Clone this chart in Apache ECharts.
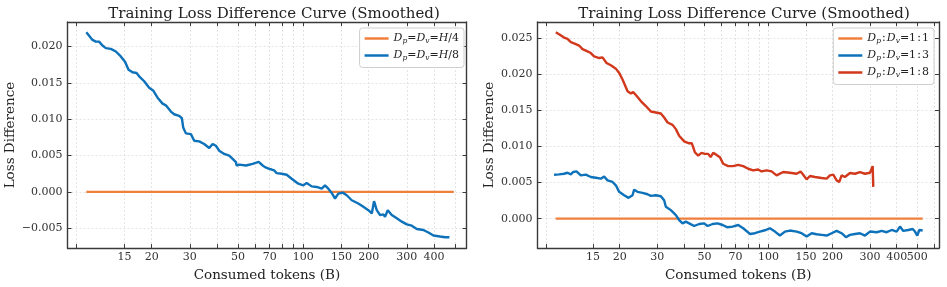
<!DOCTYPE html>
<html>
<head>
<meta charset="utf-8">
<script src="https://cdn.jsdelivr.net/npm/echarts@6/dist/echarts.min.js"></script>
<style>html,body{margin:0;padding:0;background:#fff;}#c{width:947px;height:287px;}</style>
</head>
<body>
<div id="c"></div>
<script>
// ---------- data (tokens in B, loss difference) ----------
const leftTokensH4 = [10, 494];
const leftLossH4 = [0, 0];
const leftTokensH8 = [10.0,10.68,11.06,11.45,11.87,12.30,12.97,13.68,14.42,15.10,15.65,16.33,17.04,17.52,18.48,19.48,20.32,21.30,22.46,23.26,24.53,25.40,26.79,27.57,27.96,28.76,30.34,31.42,33.13,34.94,36.84,38.19,39.55,40.96,43.20,45.56,47.24,48.92,49.28,50.66,54.40,58.41,62.27,64.97,66.57,69.67,71.46,73.47,75.37,79.47,83.80,88.41,94.80,100.0,103.6,109.3,115.3,121.6,125.9,130.4,135.2,140.0,142.6,145.0,151.9,158.5,167.2,179.3,189.1,199.4,206.8,211.8,218.0,225.8,233.8,238.1,245.0,255.6,269.6,284.4,299.9,316.2,333.4,357.6,377.2,397.8,427.0,450.3,471.4];
const leftLossH8 = [0.02196,0.02091,0.02067,0.02067,0.02013,0.01977,0.01968,0.01931,0.01863,0.01786,0.01681,0.01645,0.01636,0.01590,0.01522,0.01432,0.01395,0.01296,0.01214,0.01191,0.01105,0.01068,0.01045,0.01013,0.00886,0.00805,0.00795,0.00704,0.00695,0.00659,0.00604,0.00659,0.00635,0.00567,0.00522,0.00499,0.00454,0.00409,0.00363,0.00376,0.00363,0.00386,0.00413,0.00363,0.00341,0.00318,0.00308,0.00295,0.00259,0.00250,0.00236,0.00181,0.00113,0.00090,0.00123,0.00076,0.00068,0.00045,0.00090,0.00045,-0.00014,-0.00091,-0.00105,-0.00023,-0.00010,-0.00046,-0.00115,-0.00160,-0.00205,-0.00251,-0.00296,-0.00128,-0.00251,-0.00319,-0.00310,-0.00341,-0.00251,-0.00319,-0.00364,-0.00409,-0.00446,-0.00464,-0.00510,-0.00524,-0.00559,-0.00600,-0.00614,-0.00623,-0.00623];

const rightTokens11 = [10, 530];
const rightLoss11 = [0, 0];
const rightTokens13 = [9.83,10.38,10.96,11.37,11.79,12.08,12.53,13.13,13.86,14.63,15.45,16.31,16.90,17.53,18.51,19.18,19.88,20.98,22.00,22.98,23.38,24.25,25.60,27.02,28.01,29.56,31.21,32.34,32.94,34.77,36.71,38.03,39.47,40.90,42.39,44.74,47.23,49.85,51.73,54.60,57.65,60.85,64.23,67.79,72.03,76.03,81.75,86.30,91.10,96.16,101.5,107.2,113.1,119.4,126.0,135.5,143.0,151.0,159.4,168.2,177.6,187.5,197.9,208.9,220.5,231.0,241.2,254.6,268.8,283.8,299.6,322.1,340.0,358.9,378.8,399.8,414.4,429.5,453.3,475.4,487.4,499.7,510.6,529.7];
const rightLoss13 = [0.00609,0.00613,0.00622,0.00636,0.00613,0.00646,0.00654,0.00599,0.00609,0.00577,0.00567,0.00554,0.00585,0.00530,0.00508,0.00462,0.00371,0.00324,0.00288,0.00324,0.00402,0.00371,0.00357,0.00338,0.00316,0.00324,0.00310,0.00255,0.00165,0.00118,0.00049,-0.00019,-0.00065,-0.00041,-0.00065,-0.00102,-0.00074,-0.00065,-0.00102,-0.00074,-0.00065,-0.00088,-0.00120,-0.00110,-0.00088,-0.00133,-0.00212,-0.00202,-0.00179,-0.00161,-0.00133,-0.00179,-0.00234,-0.00179,-0.00165,-0.00179,-0.00202,-0.00247,-0.00202,-0.00216,-0.00225,-0.00234,-0.00202,-0.00170,-0.00202,-0.00257,-0.00225,-0.00212,-0.00202,-0.00234,-0.00179,-0.00188,-0.00170,-0.00188,-0.00157,-0.00179,-0.00110,-0.00170,-0.00157,-0.00143,-0.00179,-0.00234,-0.00157,-0.00165];
const rightTokens18 = [10.02,10.38,10.96,11.37,11.79,12.44,12.89,13.37,14.12,14.63,15.16,16.01,16.61,16.90,17.34,18.17,19.18,19.88,20.62,21.77,22.56,23.13,23.82,25.13,26.53,28.01,29.56,31.21,32.34,33.56,35.42,36.71,38.03,40.15,42.39,43.64,45.08,46.72,48.48,50.23,52.06,53.43,54.95,57.02,59.09,61.24,64.64,68.23,72.03,76.03,80.26,84.72,89.43,92.78,97.93,103.4,109.1,117.2,126.0,135.5,141.5,145.5,151.0,156.5,165.2,177.6,187.5,194.3,201.4,208.9,214.8,220.5,228.5,241.2,254.6,268.8,283.8,299.6,308.5,310.4];
const rightLoss18 = [0.02582,0.02555,0.02508,0.02490,0.02445,0.02418,0.02398,0.02349,0.02316,0.02294,0.02247,0.02225,0.02234,0.02247,0.02157,0.02124,0.02078,0.02019,0.01927,0.01766,0.01735,0.01753,0.01712,0.01629,0.01560,0.01484,0.01470,0.01456,0.01401,0.01332,0.01299,0.01240,0.01148,0.01071,0.01044,0.01044,0.00920,0.00874,0.00911,0.00897,0.00897,0.00852,0.00911,0.00883,0.00852,0.00760,0.00728,0.00728,0.00746,0.00728,0.00691,0.00668,0.00681,0.00654,0.00668,0.00654,0.00599,0.00646,0.00636,0.00622,0.00654,0.00609,0.00544,0.00591,0.00577,0.00563,0.00554,0.00599,0.00609,0.00530,0.00508,0.00599,0.00577,0.00632,0.00622,0.00646,0.00622,0.00636,0.00728,0.00440];

// ---------- ticks ----------
const leftXTicks = [9,15,20,30,40,50,60,70,80,90,100,150,200,300,400,500];
const leftXLabels = [15,20,30,50,70,100,150,200,300,400];
const rightXTicks = [9,15,20,30,40,50,60,70,80,90,100,150,200,300,400,500,600];
const rightXLabels = [15,20,30,50,70,100,150,200,300,400];
const rightXLabelsExtra = [500];
const leftYTicks = [-0.005,0,0.005,0.010,0.015,0.020];
const rightYTicks = [0,0.005,0.010,0.015,0.020,0.025];
const leftXRange = [8.19, 565];
const rightXRange = [8.22, 632];
const leftYRange = [-0.00773, 0.02337];
const rightYRange = [-0.00408, 0.02724];

const titleText = 'Training Loss Difference Curve (Smoothed)';
const xName = 'Consumed tokens (B)';
const yName = 'Loss Difference';

const leftNames = ['Dp=Dv=H/4', 'Dp=Dv=H/8'];
const rightNames = ['Dp:Dv=1:1', 'Dp:Dv=1:3', 'Dp:Dv=1:8'];
const legendRich = {
  'Dp=Dv=H/4': '{i|D}{s|p}{n|=}{i|D}{s|v}{n|=}{i|H}{n|/4}',
  'Dp=Dv=H/8': '{i|D}{s|p}{n|=}{i|D}{s|v}{n|=}{i|H}{n|/8}',
  'Dp:Dv=1:1': '{i|D}{s|p}{n|\u200A:\u200A}{i|D}{s|v}{n|=1\u200A:\u200A1}',
  'Dp:Dv=1:3': '{i|D}{s|p}{n|\u200A:\u200A}{i|D}{s|v}{n|=1\u200A:\u200A3}',
  'Dp:Dv=1:8': '{i|D}{s|p}{n|\u200A:\u200A}{i|D}{s|v}{n|=1\u200A:\u200A8}'
};

const ORANGE = '#F07F3C', BLUE = '#0E72BA', RED = '#D2381C';
const FONT = 'DejaVu Serif';
const AXC = '#3a3a3a';

const L = v => Math.log10(v);
const pts = (xs, ys) => xs.map((x, i) => [L(x), ys[i]]);
const fmtY = v => { const s = Math.abs(v).toFixed(3); return v < -1e-9 ? '\u2212' + s : s; };
const fmtX = v => String(Math.round(Math.pow(10, v)));

const grids = [
  {left: 67.5, top: 22, width: 399, height: 228},
  {left: 537.5, top: 22, width: 401.5, height: 228}
];
const labelStyle = {fontFamily: FONT, fontSize: 11, color: '#333', margin: 4, hideOverlap: false, interval: 0};

function xAxes(gi, range, ticks, labels) {
  const base = {
    type: 'value', gridIndex: gi, min: L(range[0]), max: L(range[1]),
    axisLine: {show: true, onZero: false, lineStyle: {color: AXC, width: 1.4}},
    axisTick: {show: true, inside: true, length: 4, customValues: ticks.map(L), lineStyle: {color: AXC, width: 1}},
  };
  return [
    Object.assign({}, base, {
      position: 'bottom',
      axisLabel: Object.assign({show: true, customValues: labels.map(L), formatter: fmtX}, labelStyle),
      splitLine: {show: true, lineStyle: {color: '#dedede', type: [2, 2], width: 0.8}},
      name: xName, nameLocation: 'middle', nameGap: 16,
      nameTextStyle: {fontFamily: FONT, fontSize: 13.5, color: '#222'}
    }),
    Object.assign({}, base, {
      position: 'top', axisLabel: {show: false}, splitLine: {show: false}
    })
  ];
}
// extra label-only axis (keeps tightly packed labels from being hidden)
function extraLabelAxis(gi, range, labels) {
  return {
    type: 'value', gridIndex: gi, min: L(range[0]), max: L(range[1]), position: 'bottom',
    axisLine: {show: false}, axisTick: {show: false}, splitLine: {show: false},
    axisLabel: Object.assign({show: true, customValues: labels.map(L), formatter: fmtX}, labelStyle)
  };
}
function yAxes(gi, range, ticks, nameGap) {
  const base = {
    type: 'value', gridIndex: gi, min: range[0], max: range[1],
    axisLine: {show: true, onZero: false, lineStyle: {color: AXC, width: 1.4}},
    axisTick: {show: true, inside: true, length: 4, customValues: ticks, lineStyle: {color: AXC, width: 1}},
  };
  return [
    Object.assign({}, base, {
      position: 'left',
      axisLabel: {show: true, customValues: ticks, formatter: fmtY, fontFamily: FONT, fontSize: 11, color: '#333', margin: 5},
      splitLine: {show: true, lineStyle: {color: '#dedede', type: [2, 2], width: 0.8}},
      name: yName, nameLocation: 'middle', nameGap: nameGap, nameRotate: 90,
      nameTextStyle: {fontFamily: FONT, fontSize: 13.5, color: '#222'}
    }),
    Object.assign({}, base, {
      position: 'right', axisLabel: {show: false}, splitLine: {show: false}
    })
  ];
}

function line(name, xi, yi, data, color) {
  return {
    name: name, type: 'line', xAxisIndex: xi, yAxisIndex: yi, data: data,
    showSymbol: false, symbol: 'none', smooth: false,
    lineStyle: {color: color, width: 2.4}, itemStyle: {color: color}, clip: true
  };
}

const rich = {
  i: {fontFamily: FONT, fontStyle: 'italic', fontSize: 11, color: '#222', lineHeight: 14},
  s: {fontFamily: FONT, fontStyle: 'italic', fontSize: 7.5, color: '#222', lineHeight: 8, verticalAlign: 'bottom'},
  n: {fontFamily: FONT, fontSize: 11, color: '#222', lineHeight: 14}
};
function legend(names, right, top) {
  return {
    data: names, orient: 'vertical', right: right, top: top,
    icon: 'rect', itemWidth: 24, itemHeight: 2.5, itemGap: 4.5,
    backgroundColor: 'rgba(255,255,255,0.9)', borderColor: '#cfcfcf', borderWidth: 1, borderRadius: 3,
    padding: [5, 5, 5, 5],
    formatter: n => legendRich[n],
    textStyle: {rich: rich, fontFamily: FONT, fontSize: 11}
  };
}

const chart = echarts.init(document.getElementById('c'), null, {renderer: 'canvas'});
chart.setOption({
  animation: false,
  backgroundColor: '#fff',
  title: [
    {text: titleText, left: 269, top: 2, textAlign: 'center', textStyle: {fontFamily: FONT, fontSize: 15, fontWeight: 'normal', color: '#222'}},
    {text: titleText, left: 739, top: 2, textAlign: 'center', textStyle: {fontFamily: FONT, fontSize: 15, fontWeight: 'normal', color: '#222'}}
  ],
  grid: grids,
  xAxis: [].concat(
    xAxes(0, leftXRange, leftXTicks, leftXLabels),
    xAxes(1, rightXRange, rightXTicks, rightXLabels),
    [extraLabelAxis(1, rightXRange, rightXLabelsExtra)]
  ),
  yAxis: [].concat(yAxes(0, leftYRange, leftYTicks, 48), yAxes(1, rightYRange, rightYTicks, 41)),
  legend: [legend(leftNames, 483, 28), legend(rightNames, 13, 28)],
  series: [
    line(leftNames[0], 0, 0, pts(leftTokensH4, leftLossH4), ORANGE),
    line(leftNames[1], 0, 0, pts(leftTokensH8, leftLossH8), BLUE),
    line(rightNames[0], 2, 2, pts(rightTokens11, rightLoss11), ORANGE),
    line(rightNames[1], 2, 2, pts(rightTokens13, rightLoss13), BLUE),
    line(rightNames[2], 2, 2, pts(rightTokens18, rightLoss18), RED)
  ]
});
</script>
</body>
</html>
